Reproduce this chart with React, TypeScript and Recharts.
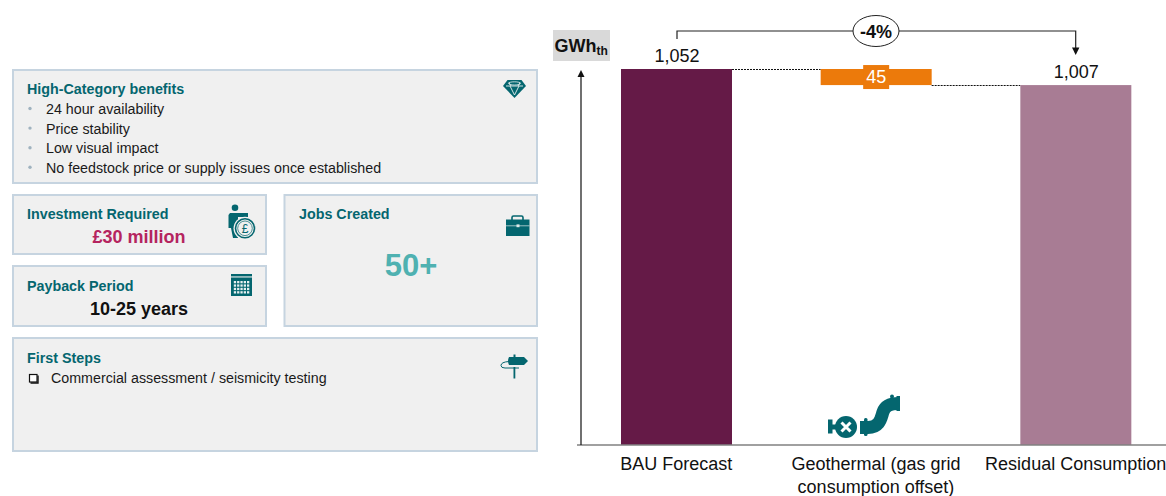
import { BarChart, Bar, XAxis, YAxis, LabelList } from 'recharts';

const TEAL = '#04666f';
const PANEL_FILL = '#f0f0f0';
const PANEL_BORDER = '#c6d4e0';
const FONT = '"Liberation Sans", Arial, sans-serif';

// chart values
const categories = ['BAU Forecast', 'Geothermal (gas grid\nconsumption offset)', 'Residual Consumption'];
const hiddenBase = [0, 1007, 0];
const visibleValue = [1052, 45, 1007];
const barColors = ['#651a47', '#ec7a0b', '#a87c94'];

// left-hand panel content
const benefits = [
  '24 hour availability',
  'Price stability',
  'Low visual impact',
  'No feedstock price or supply issues once established',
];
const firstSteps = ['Commercial assessment / seismicity testing'];

const chartData = categories.map((name, i) => ({
  name,
  base: hiddenBase[i],
  value: visibleValue[i],
}));

const CHART_WIDTH = 1176;
const MARGIN_LEFT = 577;
const BAR_SIZE = 111;
const BAR_GAP = (CHART_WIDTH - MARGIN_LEFT) / categories.length - BAR_SIZE;

function ValueBar(props: any) {
  const { x, y, width, height, index } = props;
  // index 0 connects from its top, index 1 from its bottom
  const connectorY = index === 0 ? y : index === 1 ? y + height : null;
  return (
    <g>
      <rect x={x} y={y} width={width} height={height} fill={barColors[index]} />
      {connectorY !== null && (
        <line
          x1={x + width}
          x2={x + width + BAR_GAP}
          y1={Math.round(connectorY) + 0.5}
          y2={Math.round(connectorY) + 0.5}
          stroke="#111"
          strokeWidth={1}
          strokeDasharray="2 1"
        />
      )}
    </g>
  );
}

function ValueLabel(props: any) {
  const { x, y, width, height, value, index } = props;
  const cx = x + width / 2;
  const text = Number(value).toLocaleString('en-GB');
  if (index === 1) {
    const cy = y + height / 2;
    return (
      <g>
        <rect x={cx - 13} y={cy - 12} width={26} height={24} fill={barColors[1]} />
        <text x={cx} y={cy + 6} textAnchor="middle" fontSize={18} fill="#fff" fontFamily={FONT}>
          {text}
        </text>
      </g>
    );
  }
  return (
    <text x={cx + 0.5} y={y - 7} textAnchor="middle" fontSize={18} fill="#111" fontFamily={FONT}>
      {text}
    </text>
  );
}

function CategoryTick(props: any) {
  const { x, y, payload } = props;
  const lines = String(payload.value).split('\n');
  return (
    <text x={x - 0.5} y={y} textAnchor="middle" fontSize={18} fill="#111" fontFamily={FONT}>
      {lines.map((line, i) => (
        <tspan key={line} x={x - 0.5} dy={i === 0 ? 16.5 : 23}>
          {line}
        </tspan>
      ))}
    </text>
  );
}

function Panel({ x, y, w, h }: { x: number; y: number; w: number; h: number }) {
  return <rect x={x + 1} y={y + 1} width={w - 2} height={h - 2} fill={PANEL_FILL} stroke={PANEL_BORDER} strokeWidth={2} />;
}

function Heading({ x, y, children }: { x: number; y: number; children: string }) {
  return (
    <text x={x} y={y} fontSize={14.3} fontWeight="bold" fill={TEAL} fontFamily={FONT}>
      {children}
    </text>
  );
}

function DiamondIcon() {
  return (
    <g>
      <path d="M507.5 80 H521.5 L526 86 L514.5 98 L503 86 Z" fill={TEAL} />
      <path d="M506 86 H523 M510 86 L514.5 95 L519 86 M509 82.5 L511 86 M520 82.5 L518 86" stroke="#e8f1f1" strokeWidth={0.9} fill="none" />
      <ellipse cx={514.5} cy={83.4} rx={6} ry={1.6} fill="none" stroke="#e8f1f1" strokeWidth={0.8} />
    </g>
  );
}

function InvestorIcon() {
  return (
    <g>
      <circle cx={235} cy={207.7} r={3.3} fill={TEAL} />
      <path d="M230 213 H248 V217 H238 V238 H233 L231 228 H228.5 V215 Z" fill={TEAL} />
      <circle cx={245} cy={228.3} r={11.5} fill={PANEL_FILL} />
      <circle cx={245} cy={228.3} r={9.5} fill="none" stroke={TEAL} strokeWidth={1.6} />
      <circle cx={245} cy={228.3} r={7.3} fill="none" stroke={TEAL} strokeWidth={0.7} />
      <text x={245} y={232.8} textAnchor="middle" fontSize={12} fill={TEAL} fontFamily={FONT}>
        £
      </text>
    </g>
  );
}

function BriefcaseIcon() {
  return (
    <g>
      <rect x={512} y={216} width={11} height={6} rx={1.5} fill="none" stroke={TEAL} strokeWidth={1.6} />
      <rect x={506} y={219.5} width={23.5} height={16.5} fill={TEAL} />
      <line x1={506} x2={529.5} y1={225.8} y2={225.8} stroke="#dfeaea" strokeWidth={0.7} />
      <rect x={516.5} y={224.4} width={3} height={2.8} fill="#dfeaea" />
    </g>
  );
}

function CalendarIcon() {
  const cells = [];
  for (let row = 0; row < 4; row++) {
    for (let col = 0; col < 5; col++) {
      cells.push(<rect key={`${row}-${col}`} x={233.8 + col * 3.3} y={281 + row * 3.4} width={2.3} height={2.3} fill="#e6f0f0" />);
    }
  }
  return (
    <g>
      <rect x={231} y={274} width={21} height={2.4} fill={TEAL} />
      <rect x={231} y={277.5} width={21} height={18.5} fill={TEAL} />
      {cells}
    </g>
  );
}

function SignpostIcon() {
  return (
    <g>
      <rect x={513.5} y={354.5} width={2} height={3} fill={TEAL} />
      <path d="M509 357 H524 L528 361 L524 365 H509 Q507 361 509 357 Z" fill={TEAL} />
      <path d="M509 361.5 Q501 362 501 365.5 Q501 368 505 368 H519" fill="none" stroke={TEAL} strokeWidth={1} />
      <rect x={513.5} y={367} width={1.8} height={11.5} fill={TEAL} />
    </g>
  );
}

function PipeIcon() {
  return (
    <g>
      <rect x={828} y={419.5} width={4.5} height={14} fill={TEAL} />
      <rect x={832} y={424.5} width={6} height={5} fill={TEAL} />
      <circle cx={846} cy={427} r={11} fill={TEAL} />
      <path d="M841.5 422.5 L850.5 431.5 M850.5 422.5 L841.5 431.5" stroke="#fff" strokeWidth={3} />
      <path d="M860 427.5 H868 C880 427.5 881 418 883 412 C885 406 889 403.5 899 403.5" fill="none" stroke={TEAL} strokeWidth={13} />
      <rect x={864} y={418} width={3.5} height={18} rx={1.5} fill={TEAL} />
      <rect x={896.5} y={396} width={3.5} height={15} fill={TEAL} />
      <circle cx={892} cy={396.5} r={2} fill={TEAL} />
    </g>
  );
}

export default function App() {
  return (
    <div style={{ position: 'absolute', left: 0, top: 0, width: 1166, height: 496, overflow: 'hidden', background: '#fff' }}>
      {/* summary panels */}
      <svg width={1166} height={496} style={{ position: 'absolute', left: 0, top: 0 }}>
        <Panel x={12} y={69} w={526} h={115} />
        <Panel x={12} y={194} w={255} h={61} />
        <Panel x={12} y={265} w={255} h={62} />
        <Panel x={283.5} y={194} w={254.5} h={133} />
        <Panel x={12} y={337} w={526} h={115} />

        <Heading x={27} y={94}>High-Category benefits</Heading>
        {benefits.map((line, i) => (
          <g key={line}>
            <circle cx={30} cy={108.5 + i * 19.6} r={1.7} fill="#9fb2bf" />
            <text x={46} y={114 + i * 19.6} fontSize={14.25} fill="#1a1a1a" fontFamily={FONT}>
              {line}
            </text>
          </g>
        ))}

        <Heading x={27} y={219}>Investment Required</Heading>
        <text x={139} y={243} textAnchor="middle" fontSize={18} fontWeight="bold" fill="#b5245f" fontFamily={FONT}>
          £30 million
        </text>

        <Heading x={27} y={291}>Payback Period</Heading>
        <text x={139} y={315} textAnchor="middle" fontSize={18} fontWeight="bold" fill="#111" fontFamily={FONT}>
          10-25 years
        </text>

        <Heading x={299} y={219}>Jobs Created</Heading>
        <text x={411} y={276} textAnchor="middle" fontSize={31} fontWeight="bold" fill="#4fb1b1" fontFamily={FONT}>
          50+
        </text>

        <Heading x={27} y={363}>First Steps</Heading>
        {firstSteps.map((line, i) => (
          <g key={line}>
            <rect x={29.5} y={374.5 + i * 20} width={7.5} height={7.5} fill="#fff" stroke="#111" strokeWidth={1.2} />
            <path d={`M38 ${375.5 + i * 20} V${383 + i * 20} H30.5`} fill="none" stroke="#111" strokeWidth={1.4} />
            <text x={51} y={383 + i * 20} fontSize={14.25} fill="#1a1a1a" fontFamily={FONT}>
              {line}
            </text>
          </g>
        ))}

        <DiamondIcon />
        <InvestorIcon />
        <BriefcaseIcon />
        <CalendarIcon />
        <SignpostIcon />
      </svg>

      <div style={{ position: 'absolute', left: 0, top: 0 }}>
        <BarChart
          width={CHART_WIDTH}
          height={496}
          data={chartData}
          margin={{ top: 69, right: 0, bottom: 0, left: MARGIN_LEFT }}
          barSize={BAR_SIZE}
        >
          <XAxis
            dataKey="name"
            interval={0}
            height={51}
            tickLine={false}
            axisLine={{ stroke: '#808080', strokeWidth: 1.5 }}
            tick={<CategoryTick />}
          />
          <YAxis hide width={0} domain={[0, 1052]} />
          <Bar dataKey="base" stackId="a" fill="none" isAnimationActive={false} />
          <Bar dataKey="value" stackId="a" shape={<ValueBar />} isAnimationActive={false}>
            <LabelList dataKey="value" content={<ValueLabel />} />
          </Bar>
        </BarChart>
      </div>

      {/* unit box, value axis arrow, change bracket and pipe icon */}
      <svg width={1166} height={496} style={{ position: 'absolute', left: 0, top: 0 }}>
        <rect x={553} y={30} width={57} height={31} fill="#d9d9d9" />
        <text x={554.5} y={52} fontSize={18} fontWeight="bold" fill="#111" fontFamily={FONT}>
          GWh
          <tspan fontSize={12} dy={3}>th</tspan>
        </text>

        <line x1={581} x2={581} y1={76} y2={445} stroke="#111" strokeWidth={1.2} />
        <path d="M581 70 L577.5 77 H584.5 Z" fill="#111" />

        <path d="M677 39 V31 H1075.7 V49" fill="none" stroke="#222" strokeWidth={1.2} />
        <path d="M1075.7 55 L1072 47.5 H1079.4 Z" fill="#111" />
        <ellipse cx={876} cy={31} rx={23} ry={15.5} fill="#fff" stroke="#222" strokeWidth={1} />
        <text x={876} y={37.5} textAnchor="middle" fontSize={18} fontWeight="bold" fill="#111" fontFamily={FONT}>
          -4%
        </text>

        <PipeIcon />
      </svg>
    </div>
  );
}
